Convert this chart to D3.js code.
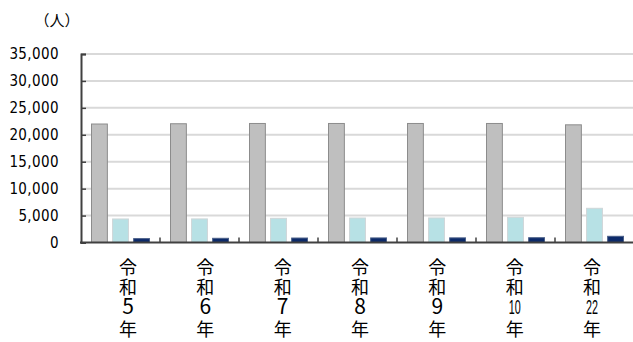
<!DOCTYPE html>
<html>
<head>
<meta charset="utf-8">
<script src="https://cdn.jsdelivr.net/npm/d3@7"></script>
<style>
  body { margin: 0; background: #fff; }
  svg { display: block; }
</style>
</head>
<body>
<svg id="chart"></svg>
<script>
// data
const categories = ['令和5年', '令和6年', '令和7年', '令和8年', '令和9年', '令和10年', '令和22年'];
const labelRows = [['令', '和', '5', '年'], ['令', '和', '6', '年'], ['令', '和', '7', '年'], ['令', '和', '8', '年'],
  ['令', '和', '9', '年'], ['令', '和', '10', '年'], ['令', '和', '22', '年']];
const seriesNames = ['s1', 's2', 's3'];
const series1 = [22000, 22050, 22100, 22100, 22100, 22100, 21850];
const series2 = [4370, 4380, 4490, 4550, 4560, 4680, 6350];
const series3 = [720, 780, 830, 850, 860, 890, 1150];
const yTicks = [0, 5000, 10000, 15000, 20000, 25000, 30000, 35000];
const unitLabel = '（人）';

const W = 633, H = 342;
const margin = { top: 54, right: -1, bottom: 99.5, left: 81 };
const width = W - margin.left - margin.right;
const height = H - margin.top - margin.bottom;

const fills = ['#bfbfbf', '#b7e1e5', '#0c2a6a'];
const strokes = ['#8c8c8c', '#cfd6d8', '#4a5f88'];
// baseline offsets of the stacked label rows below the axis
const rowOffsets = [31, 51.5, 71, 93.5];

const svg = d3.select('#chart').attr('width', W).attr('height', H);
const g = svg.append('g').attr('transform', `translate(${margin.left},${margin.top})`);

const x0 = d3.scaleBand().domain(categories).range([0, width]);
const x1 = d3.scaleBand().domain(seriesNames).range([10, x0.bandwidth() - 10]).paddingInner(0.2);
const y = d3.scaleLinear().domain([0, 35000]).range([height, 0]);

// gridlines
g.append('g')
  .selectAll('line')
  .data(yTicks.slice(1))
  .join('line')
  .attr('x1', 0).attr('x2', width)
  .attr('y1', d => y(d)).attr('y2', d => y(d))
  .attr('stroke', '#d9d9d9').attr('stroke-width', 2);

// bars
const rows = categories.map((c, i) => ({ c, v: [series1[i], series2[i], series3[i]] }));
g.append('g')
  .selectAll('g')
  .data(rows)
  .join('g')
  .attr('transform', d => `translate(${x0(d.c)},0)`)
  .selectAll('rect')
  .data(d => d.v.map((v, k) => ({ k, v })))
  .join('rect')
  .attr('x', d => x1(seriesNames[d.k]) + 0.5)
  .attr('y', d => y(d.v))
  .attr('width', x1.bandwidth() - 1)
  .attr('height', d => height - y(d.v))
  .attr('fill', d => fills[d.k])
  .attr('stroke', d => strokes[d.k])
  .attr('stroke-width', 1);

// y axis
const yAxis = g.append('g')
  .call(d3.axisLeft(y).tickValues(yTicks).tickSize(-5).tickPadding(22).tickFormat(d3.format(',')));
yAxis.select('.domain').attr('stroke', '#404040').attr('stroke-width', 2);
yAxis.selectAll('.tick line').attr('stroke', '#404040').attr('stroke-width', 1.5);
yAxis.selectAll('.tick text')
  .attr('fill', '#000')
  .style('font-family', '"Liberation Sans Narrow", "DejaVu Sans Condensed", sans-serif')
  .style('font-size', '15px')
  .style('letter-spacing', '0.4px');

// x axis line with inward ticks between groups
g.append('line')
  .attr('x1', -1).attr('x2', width)
  .attr('y1', height).attr('y2', height)
  .attr('stroke', '#404040').attr('stroke-width', 2);
g.append('g')
  .selectAll('line')
  .data(categories.slice(1))
  .join('line')
  .attr('x1', d => x0(d)).attr('x2', d => x0(d))
  .attr('y1', height).attr('y2', height - 5)
  .attr('stroke', '#404040').attr('stroke-width', 1.5);

// vertical category labels, one row per character
const labelX = d3.scalePoint().domain(categories).range([47, 511]);
const lab = g.append('g')
  .selectAll('text')
  .data(categories)
  .join('text')
  .attr('x', d => labelX(d))
  .attr('text-anchor', 'middle')
  .style('font-family', '"Noto Sans CJK JP", sans-serif')
  .style('font-size', '18px')
  .attr('fill', '#000');
lab.selectAll('tspan')
  .data((d, i) => labelRows[i])
  .join('tspan')
  .attr('x', function () { return d3.select(this.parentNode).attr('x'); })
  .attr('y', (d, j) => height + rowOffsets[j])
  .style('font-size', d => /\d/.test(d) ? '21px' : null)
  .style('font-family', d => d.length > 1 ? '"Liberation Sans Narrow", sans-serif' : null)
  .attr('textLength', d => d.length > 1 ? 12 : null)
  .attr('lengthAdjust', 'spacingAndGlyphs')
  .text(d => d);

// unit label
svg.append('text')
  .attr('x', 57).attr('y', 26)
  .attr('text-anchor', 'middle')
  .style('font-family', '"Noto Sans CJK JP", sans-serif')
  .style('font-size', '15px')
  .text(unitLabel);
</script>
</body>
</html>
